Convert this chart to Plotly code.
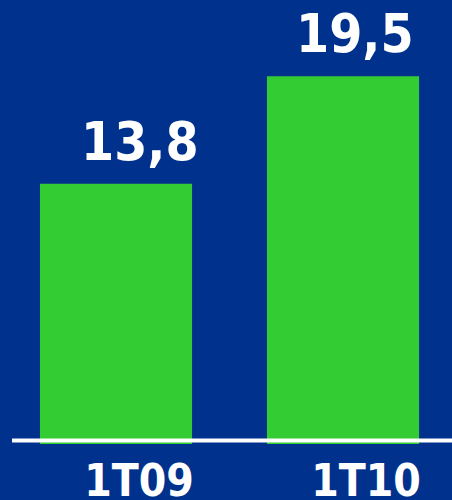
import plotly.graph_objects as go

# Quarterly figures
periods = ["1T09", "1T10"]
values = [13.8, 19.5]
value_labels = ["13,8", "19,5"]
label_shifts = [24, 12]  # horizontal nudges of the value labels, px

BG = "#00318C"
GREEN = "#33CC33"
FONT = "DejaVu Sans Condensed, DejaVu Sans, sans-serif"

fig = go.Figure(
    go.Bar(
        x=periods,
        y=values,
        width=0.67,
        marker=dict(color=GREEN, line=dict(width=0)),
        hoverinfo="skip",
    )
)

for p, v, lab, dx in zip(periods, values, value_labels, label_shifts):
    fig.add_annotation(
        x=p, y=v, text=lab, showarrow=False,
        xanchor="center", yanchor="bottom", xshift=dx, yshift=10,
        font=dict(family=FONT, size=53, color="white", weight="bold"),
    )

# baseline
fig.add_shape(
    type="line", xref="x", yref="y",
    x0=-0.458, x1=1.5, y0=0.19, y1=0.19,
    line=dict(color="white", width=4),
)

fig.update_layout(
    width=452, height=500,
    margin=dict(l=0, r=0, t=0, b=56, pad=0),
    paper_bgcolor=BG, plot_bgcolor=BG,
    showlegend=False,
    xaxis=dict(
        range=[-0.511, 1.480], showgrid=False, zeroline=False, showline=False,
        ticks="", automargin=False, ticklabelshift=23, ticklabelstandoff=7,
        tickfont=dict(family=FONT, size=44, color="white", weight="bold"),
    ),
    yaxis=dict(
        range=[0, 23.54], visible=False, showgrid=False, zeroline=False,
    ),
)

fig.write_html("out.html")
